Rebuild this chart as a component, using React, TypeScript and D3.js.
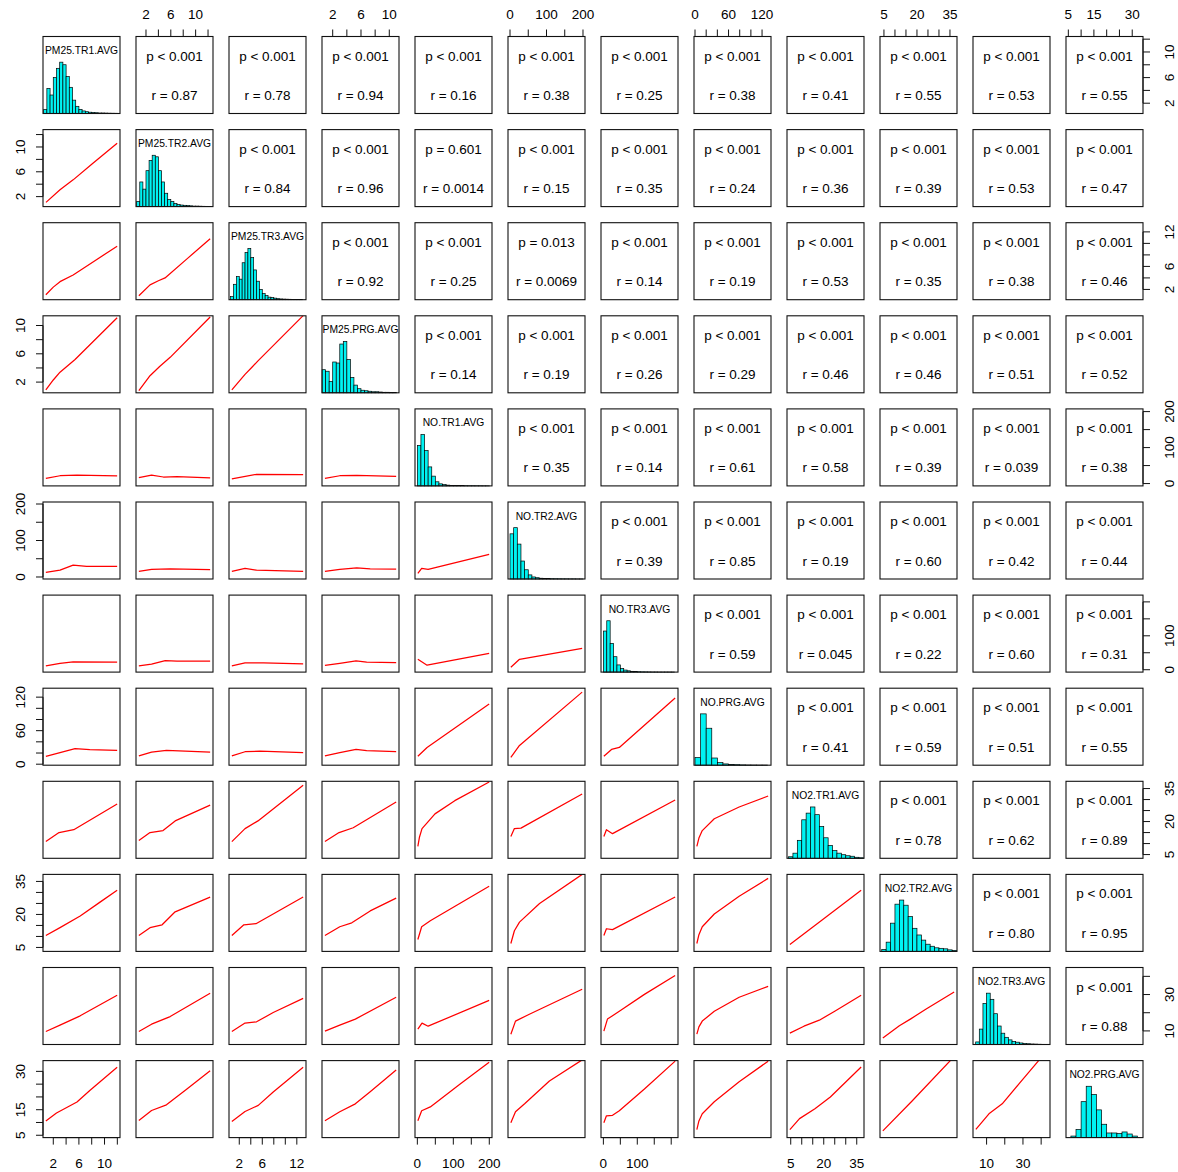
import React from 'react';
import * as d3 from 'd3';

// ---------- DATA ----------
const varNames = [
  'PM25.TR1.AVG', 'PM25.TR2.AVG', 'PM25.TR3.AVG', 'PM25.PRG.AVG',
  'NO.TR1.AVG', 'NO.TR2.AVG', 'NO.TR3.AVG', 'NO.PRG.AVG',
  'NO2.TR1.AVG', 'NO2.TR2.AVG', 'NO2.TR3.AVG', 'NO2.PRG.AVG',
];
const dataMin = [0.84, 0.85, 0.71, 0.89, 1.4, 2.3, 1.4, 3.3, 4.6, 4.5, 4.1, 5.2];
const dataMax = [11.97, 12.34, 13.1, 10.97, 199.6, 197.7, 211.6, 130.9, 37, 36.9, 43.3, 33.1];

const tickValues = [
  [2, 4, 6, 8, 10, 12], [2, 4, 6, 8, 10, 12], [2, 4, 6, 8, 10, 12], [2, 4, 6, 8, 10],
  [0, 50, 100, 150, 200], [0, 50, 100, 150, 200], [0, 50, 100, 150, 200], [0, 20, 40, 60, 80, 100, 120],
  [5, 10, 15, 20, 25, 30, 35], [5, 10, 15, 20, 25, 30, 35], [10, 20, 30, 40], [5, 10, 15, 20, 25, 30],
];
const tickLabels = [
  [2, 6, 10], [2, 6, 10], [2, 6, 12], [2, 6, 10],
  [0, 100, 200], [0, 100, 200], [0, 100], [0, 60, 120],
  [5, 20, 35], [5, 20, 35], [10, 30], [5, 15, 30],
];

// histograms: first break, bin width, relative bar heights (max = 1)
const histStart = [0.5, 0.5, 0.5, 0.5, 0, 0, 0, 0, 4, 4, 4, 6];
const histStep = [0.5, 0.5, 0.5, 0.5, 10, 10, 10, 10, 2, 2, 2, 2];
const histHeights = [
  [0.08, 0.49, 0.36, 0.70, 0.88, 1.0, 0.95, 0.72, 0.51, 0.26, 0.14, 0.08, 0.05, 0.035, 0.025, 0.02, 0.015, 0.01, 0.01, 0.008, 0.006, 0.005, 0.004],
  [0.1, 0.48, 0.34, 0.7, 0.9, 1.0, 0.97, 0.7, 0.48, 0.26, 0.14, 0.1, 0.06, 0.04, 0.03, 0.025, 0.02, 0.015, 0.01, 0.01, 0.008, 0.006, 0.005, 0.004],
  [0.06, 0.3, 0.45, 0.4, 0.72, 0.92, 1.0, 0.82, 0.58, 0.36, 0.2, 0.12, 0.08, 0.05, 0.04, 0.03, 0.02, 0.015, 0.012, 0.01, 0.008, 0.006, 0.005, 0.004, 0.003],
  [0.45, 0.42, 0.22, 0.6, 0.58, 0.95, 1.0, 0.65, 0.3, 0.15, 0.08, 0.05, 0.04, 0.03, 0.02, 0.02, 0.015, 0.01, 0.01, 0.008, 0.005],
  [0.79, 1.0, 0.69, 0.37, 0.19, 0.08, 0.04, 0.025, 0.015, 0.01, 0.008, 0.006, 0.005, 0.004, 0.003, 0.003, 0.002, 0.002, 0.001, 0.001],
  [0.88, 1.0, 0.68, 0.35, 0.18, 0.08, 0.04, 0.025, 0.015, 0.01, 0.008, 0.006, 0.005, 0.004, 0.003, 0.003, 0.002, 0.002, 0.001, 0.001],
  [0.8, 1.0, 0.56, 0.3, 0.14, 0.07, 0.04, 0.025, 0.015, 0.01, 0.007, 0.005, 0.004, 0.003, 0.002, 0.002, 0.001, 0.001, 0.001, 0.001, 0.001],
  [0.15, 1.0, 0.72, 0.14, 0.05, 0.025, 0.015, 0.01, 0.006, 0.004, 0.003, 0.002, 0.002],
  [0.03, 0.1, 0.35, 0.75, 0.88, 1.0, 0.85, 0.62, 0.4, 0.25, 0.15, 0.1, 0.07, 0.05, 0.04, 0.02, 0.01],
  [0.04, 0.18, 0.55, 0.92, 1.0, 0.9, 0.68, 0.45, 0.32, 0.22, 0.14, 0.1, 0.07, 0.06, 0.05, 0.03, 0.02],
  [0.05, 0.3, 0.8, 1.0, 0.88, 0.6, 0.36, 0.22, 0.14, 0.09, 0.06, 0.045, 0.03, 0.02, 0.015, 0.01, 0.008, 0.005, 0.003],
  [0.03, 0.16, 0.7, 1.0, 0.84, 0.54, 0.26, 0.09, 0.09, 0.08, 0.11, 0.07, 0.03],
];

// upper panels: p and r labels, row by row (columns to the right of the diagonal)
const pValues = [
  ['< 0.001', '< 0.001', '< 0.001', '< 0.001', '< 0.001', '< 0.001', '< 0.001', '< 0.001', '< 0.001', '< 0.001', '< 0.001'],
  ['< 0.001', '< 0.001', '= 0.601', '< 0.001', '< 0.001', '< 0.001', '< 0.001', '< 0.001', '< 0.001', '< 0.001'],
  ['< 0.001', '< 0.001', '= 0.013', '< 0.001', '< 0.001', '< 0.001', '< 0.001', '< 0.001', '< 0.001'],
  ['< 0.001', '< 0.001', '< 0.001', '< 0.001', '< 0.001', '< 0.001', '< 0.001', '< 0.001'],
  ['< 0.001', '< 0.001', '< 0.001', '< 0.001', '< 0.001', '< 0.001', '< 0.001'],
  ['< 0.001', '< 0.001', '< 0.001', '< 0.001', '< 0.001', '< 0.001'],
  ['< 0.001', '< 0.001', '< 0.001', '< 0.001', '< 0.001'],
  ['< 0.001', '< 0.001', '< 0.001', '< 0.001'],
  ['< 0.001', '< 0.001', '< 0.001'],
  ['< 0.001', '< 0.001'],
  ['< 0.001'],
];
const rValues = [
  ['0.87', '0.78', '0.94', '0.16', '0.38', '0.25', '0.38', '0.41', '0.55', '0.53', '0.55'],
  ['0.84', '0.96', '0.0014', '0.15', '0.35', '0.24', '0.36', '0.39', '0.53', '0.47'],
  ['0.92', '0.25', '0.0069', '0.14', '0.19', '0.53', '0.35', '0.38', '0.46'],
  ['0.14', '0.19', '0.26', '0.29', '0.46', '0.46', '0.51', '0.52'],
  ['0.35', '0.14', '0.61', '0.58', '0.39', '0.039', '0.38'],
  ['0.39', '0.85', '0.19', '0.60', '0.42', '0.44'],
  ['0.59', '0.045', '0.22', '0.60', '0.31'],
  ['0.41', '0.59', '0.51', '0.55'],
  ['0.78', '0.62', '0.89'],
  ['0.80', '0.95'],
  ['0.88'],
];

// lower panels: smoothed (lowess) curves, [x, y] in data units; one list per row
const lowessRow2 = [
  [[0.86, 1.07], [3.05, 3.1], [5.1, 4.7], [8, 7.2], [11.97, 10.6]],
];
const lowessRow3 = [
  [[0.84, 1.07], [2.0, 2.4], [3.05, 3.35], [5.1, 4.5], [8.5, 7], [11.97, 9.5]],
  [[0.85, 0.9], [2.65, 2.8], [4.0, 3.5], [5.07, 4.0], [8.7, 7.4], [12.34, 10.8]],
];
const lowessRow4 = [
  [[0.84, 0.9], [2.0, 2.3], [3.05, 3.4], [5.4, 5.2], [11.97, 11.1]],
  [[0.85, 0.8], [2.65, 2.9], [4.2, 4.2], [5.9, 5.5], [12.34, 11.2]],
  [[0.71, 0.9], [3.0, 3.1], [4.2, 4.1], [5.25, 5.0], [13.1, 11.4]],
];
const lowessRow5 = [
  [[0.84, 14.6], [3.05, 21.7], [5.7, 23.7], [11.97, 21]],
  [[0.85, 16.3], [2.9, 23.7], [4.8, 18.2], [7, 19], [12.34, 15.5]],
  [[0.71, 12.7], [5.0, 25.6], [13.1, 24.5]],
  [[0.9, 14.6], [3.0, 21.7], [5.4, 22.8], [10.97, 20.1]],
];
const lowessRow6 = [
  [[0.84, 12.6], [3.05, 18.8], [5.1, 32.4], [7.2, 28.9], [11.97, 28.9]],
  [[0.85, 15.3], [2.9, 20.7], [5.9, 22.4], [12.34, 20.5]],
  [[0.71, 15.3], [3.0, 23.4], [5.0, 18.8], [13.1, 15.3]],
  [[0.9, 15.3], [3.0, 20.7], [5.4, 25.1], [7.3, 22.4], [10.97, 21.6]],
  [[1.4, 9.9], [12, 23.4], [30, 20.7], [199.6, 62]],
];
const lowessRow7 = [
  [[0.84, 11.4], [3.05, 18.4], [5.1, 23], [11.97, 22.1]],
  [[0.85, 11.4], [2.9, 16.3], [5.1, 27], [7, 25], [12.34, 25]],
  [[0.71, 11.4], [3.0, 20], [6.2, 20], [13.1, 17.1]],
  [[0.9, 12.5], [3.0, 18.4], [5.3, 25.9], [6.8, 22.1], [10.97, 21.2]],
  [[1.4, 30.8], [27, 13.4], [199.6, 48.3]],
  [[2.3, 7.5], [26, 30.8], [197.7, 63]],
];
const lowessRow8 = [
  [[0.84, 14.1], [3.05, 20.7], [5.4, 27.7], [7.7, 25.9], [11.97, 24.7]],
  [[0.85, 14.8], [2.9, 21.7], [5.3, 24.7], [12.34, 21.7]],
  [[0.71, 14.8], [3.0, 22.3], [5.6, 23.4], [13.1, 20.7]],
  [[0.9, 14.8], [3.0, 20.7], [5.3, 26.4], [6.8, 24.1], [10.97, 22.3]],
  [[1.4, 14.1], [27, 30], [199.6, 107.8]],
  [[2.3, 12.4], [26, 33.5], [197.7, 129]],
  [[1.4, 14.1], [24, 26.4], [47, 30], [211.6, 118.4]],
];
const lowessRow9 = [
  [[0.84, 10.9], [2.9, 15], [5.2, 16.3], [11.97, 28]],
  [[0.85, 11.4], [2.65, 15], [4.75, 15.9], [6.7, 20.3], [12.34, 27.5]],
  [[0.71, 10.9], [3.0, 16.8], [5.25, 20.3], [13.1, 36.5]],
  [[0.9, 10.9], [2.9, 15], [4.9, 17.2], [10.97, 28.9]],
  [[1.4, 8.7], [6, 13], [13, 16.8], [49, 23.5], [104, 29.5], [199.6, 38]],
  [[2.3, 13.2], [12, 16.8], [30, 17], [197.7, 32.5]],
  [[1.4, 13.2], [9, 16.3], [27, 14.5], [211.6, 29.8]],
  [[3.3, 8.7], [7, 12.5], [13, 15.9], [34.5, 21.3], [79, 26.6], [130.9, 31.6]],
];
const lowessRow10 = [
  [[0.84, 10.4], [3.05, 14], [6.2, 19.3], [9.3, 25.6], [11.97, 31]],
  [[0.85, 10.4], [2.65, 14], [4.6, 15.3], [6.7, 21.2], [12.34, 27.9]],
  [[0.71, 10.4], [2.8, 15.3], [4.9, 15.8], [13.1, 27.9]],
  [[0.9, 10.4], [3.0, 14.4], [4.7, 16.2], [7.3, 21.6], [10.97, 27.4]],
  [[1.4, 8.6], [12, 14.4], [36, 17.1], [199.6, 32.8]],
  [[2.3, 6.8], [12, 12.6], [26, 16.5], [81, 25], [197.7, 38.2]],
  [[1.4, 10.4], [9, 13.5], [27, 13.1], [211.6, 27.9]],
  [[3.3, 6.8], [7, 10.8], [13, 14.4], [34.5, 20.2], [79, 28.3], [130.9, 36.4]],
  [[4.6, 6.3], [20, 18], [37, 31]],
];
const lowessRow11 = [
  [[0.84, 9.7], [3.05, 13.2], [6.2, 18.3], [11.97, 29.6]],
  [[0.85, 9.7], [2.9, 13.7], [5.9, 17.9], [12.34, 30.7]],
  [[0.71, 9.7], [3.0, 14.3], [5.0, 15], [7.9, 20.1], [13.1, 27.9]],
  [[0.9, 9.9], [3.0, 13.2], [5.2, 16.5], [10.97, 28.5]],
  [[1.4, 11], [13, 14.3], [30, 12.6], [199.6, 26.8]],
  [[2.3, 8.2], [15, 15.4], [53, 19.2], [197.7, 32.9]],
  [[1.4, 9.9], [12, 16.5], [47, 20.8], [121, 30.1], [211.6, 40.5]],
  [[3.3, 8.2], [7, 12.2], [13, 15.4], [34.5, 20.8], [79, 28.5], [130.9, 34.5]],
  [[4.6, 8.8], [11, 12.6], [18, 15.9], [25, 20.8], [37, 29.6]],
  [[4.5, 6.1], [12, 12.8], [17, 16.5], [24, 21.9], [36.9, 31.4]],
];
const lowessRow12 = [
  [[0.84, 10.6], [2.5, 13.7], [5.7, 18], [7.7, 22.5], [11.97, 31.6]],
  [[0.85, 10.8], [2.9, 14.7], [5.3, 16.9], [8.6, 23.1], [12.34, 30.2]],
  [[0.71, 10.4], [3.0, 14.3], [5.3, 16.7], [7.9, 21.9], [13.1, 31.6]],
  [[0.9, 10.7], [3.0, 14.2], [5.2, 17.3], [7.3, 22], [10.97, 30.5]],
  [[1.4, 10.7], [12, 14.6], [36, 16.1], [119, 25.1], [199.6, 33.6]],
  [[2.3, 9.9], [15, 14.2], [40, 17.3], [108, 26.2], [197.7, 34.5]],
  [[1.4, 9.9], [9, 12.6], [27, 12.8], [47, 14.6], [121, 23.1], [211.6, 34]],
  [[3.3, 7.2], [7, 10.6], [13, 13.4], [34.5, 18.1], [79, 25.9], [130.9, 34]],
  [[4.6, 7.2], [9, 11.5], [16, 15.4], [23, 20], [37, 31.7]],
  [[4.5, 6.7], [18, 18.6], [36.9, 35.8]],
  [[4.1, 7.3], [11.3, 13.4], [18.6, 17.3], [27.8, 25.1], [38.5, 34.1], [43.3, 38.1]],
];
const lowessRows = [[], lowessRow2, lowessRow3, lowessRow4, lowessRow5, lowessRow6, lowessRow7,
  lowessRow8, lowessRow9, lowessRow10, lowessRow11, lowessRow12];

// ---------- LAYOUT ----------
const W = 1178;
const H = 1172;
const X0 = 43;
const Y0 = 36.5;
const STEP_X = 93.0;
const STEP_Y = 93.1;
const SIZE = 77;
const FONT = "'Liberation Sans', Arial, Helvetica, sans-serif";
const N = varNames.length;

export default function App() {
  const domains = varNames.map((_, k) => {
    const span = dataMax[k] - dataMin[k];
    return [dataMin[k] - 0.04 * span, dataMax[k] + 0.04 * span];
  });
  const left = (j: number) => X0 + j * STEP_X;
  const top = (i: number) => Y0 + i * STEP_Y;
  const xs = (j: number) => d3.scaleLinear().domain(domains[j]).range([left(j), left(j) + SIZE]);
  const ys = (i: number, v: number) => d3.scaleLinear().domain(domains[v]).range([top(i) + SIZE, top(i)]);

  const els: React.ReactNode[] = [];
  const clips: React.ReactNode[] = [];

  for (let i = 0; i < N; i++) {
    for (let j = 0; j < N; j++) {
      const L = left(j);
      const T = top(i);
      const key = `${i}-${j}`;
      if (i === j) {
        const x = xs(j);
        const yh = d3.scaleLinear().domain([0, 1.5]).range([T + SIZE, T]);
        histHeights[j].forEach((h, k) => {
          const b0 = histStart[j] + k * histStep[j];
          const b1 = b0 + histStep[j];
          els.push(
            <rect key={`h${key}-${k}`} x={x(b0)} y={yh(h)} width={x(b1) - x(b0)}
              height={Math.max(yh(0) - yh(h), 0.01)} fill="#00F2F2" stroke="#000" strokeWidth={0.7} />
          );
        });
        els.push(
          <text key={`t${key}`} x={L + SIZE / 2} y={T + 17.5} textAnchor="middle"
            fontSize={10.3} fontFamily={FONT} fill="#000">{varNames[j]}</text>
        );
      } else if (j > i) {
        const p = pValues[i][j - i - 1];
        const r = rValues[i][j - i - 1];
        els.push(
          <text key={`p${key}`} x={L + SIZE / 2} y={T + 24} textAnchor="middle"
            fontSize={13.5} fontFamily={FONT} fill="#000">{`p ${p}`}</text>
        );
        els.push(
          <text key={`r${key}`} x={L + SIZE / 2} y={T + 63.5} textAnchor="middle"
            fontSize={13.5} fontFamily={FONT} fill="#000">{`r = ${r}`}</text>
        );
      } else {
        const pts = lowessRows[i][j] as number[][];
        const x = xs(j);
        const y = ys(i, i);
        const line = d3.line<number[]>().x((d) => x(d[0])).y((d) => y(d[1])).curve(d3.curveLinear);
        clips.push(
          <clipPath key={`c${key}`} id={`clip-${key}`}>
            <rect x={L} y={T} width={SIZE} height={SIZE} />
          </clipPath>
        );
        els.push(
          <path key={`l${key}`} d={line(pts) || ''} fill="none" stroke="#FF0000" strokeWidth={1.25}
            strokeLinejoin="round" clipPath={`url(#clip-${key})`} />
        );
      }
      els.push(
        <rect key={`b${key}`} x={L} y={T} width={SIZE} height={SIZE} fill="none" stroke="#111" strokeWidth={1.1} />
      );
    }
  }

  // outer axes
  const axes: React.ReactNode[] = [];
  const tickLen = 7;
  for (let j = 0; j < N; j++) {
    const x = xs(j);
    const tv = tickValues[j];
    const isTop = j % 2 === 1;
    const edge = isTop ? top(0) : top(N - 1) + SIZE;
    const dir = isTop ? -1 : 1;
    axes.push(<line key={`ax${j}`} x1={x(tv[0])} x2={x(tv[tv.length - 1])} y1={edge} y2={edge} stroke="#111" strokeWidth={1} />);
    tv.forEach((t) => axes.push(
      <line key={`axt${j}-${t}`} x1={x(t)} x2={x(t)} y1={edge} y2={edge + dir * tickLen} stroke="#111" strokeWidth={1} />
    ));
    tickLabels[j].forEach((t) => axes.push(
      <text key={`axl${j}-${t}`} x={x(t)} y={isTop ? edge - 18 : edge + 30.5} textAnchor="middle"
        fontSize={13.5} fontFamily={FONT} fill="#000">{t}</text>
    ));
  }
  for (let i = 0; i < N; i++) {
    const y = ys(i, i);
    const tv = tickValues[i];
    const isRight = i % 2 === 0;
    const edge = isRight ? left(N - 1) + SIZE : left(0);
    const dir = isRight ? 1 : -1;
    axes.push(<line key={`ay${i}`} x1={edge} x2={edge} y1={y(tv[0])} y2={y(tv[tv.length - 1])} stroke="#111" strokeWidth={1} />);
    tv.forEach((t) => axes.push(
      <line key={`ayt${i}-${t}`} x1={edge} x2={edge + dir * tickLen} y1={y(t)} y2={y(t)} stroke="#111" strokeWidth={1} />
    ));
    tickLabels[i].forEach((t) => {
      const bx = isRight ? edge + 31 : edge - 18;
      axes.push(
        <text key={`ayl${i}-${t}`} transform={`translate(${bx},${y(t)}) rotate(-90)`} textAnchor="middle"
          fontSize={13.5} fontFamily={FONT} fill="#000">{t}</text>
      );
    });
  }

  return (
    <svg width={W} height={H} viewBox={`0 0 ${W} ${H}`}
      style={{ position: 'absolute', left: 0, top: 0, background: '#fff' }}>
      <defs>{clips}</defs>
      <rect x={0} y={0} width={W} height={H} fill="#fff" />
      {els}
      {axes}
    </svg>
  );
}
